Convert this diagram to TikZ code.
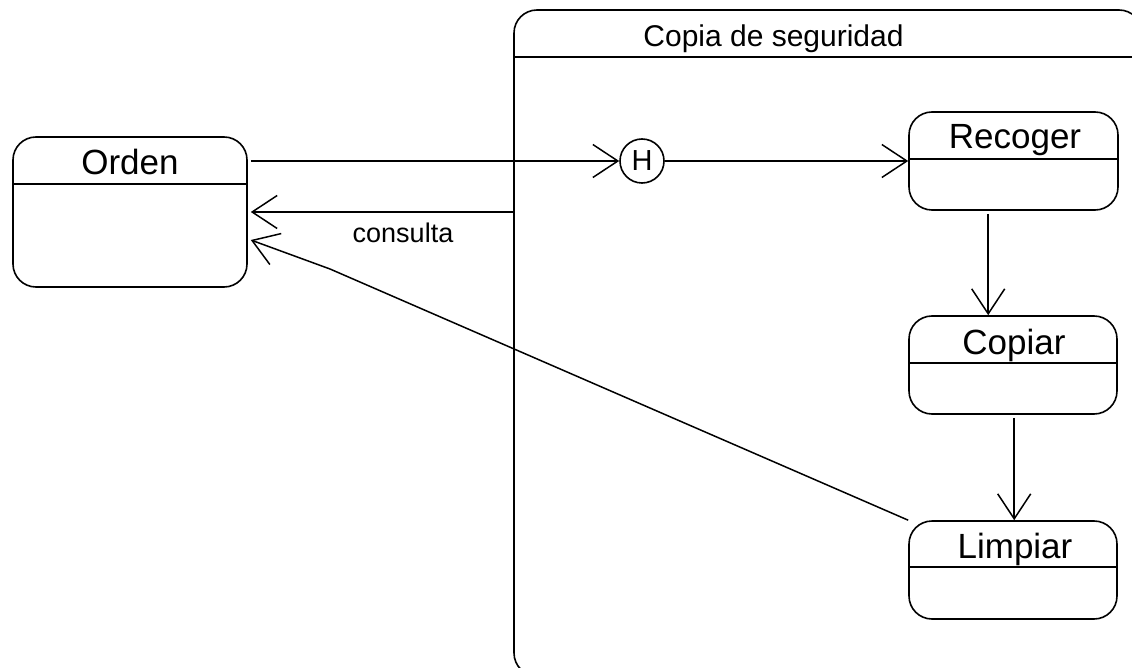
\documentclass[tikz,border=0pt]{standalone}
\usepackage{fontspec}
\setmainfont{Liberation Sans}
\usetikzlibrary{arrows.meta,calc}
\tikzset{
  stbox/.style={draw=black, line width=1.6pt, rounded corners=23pt, inner sep=0pt},
  stname/.style={anchor=base, inner sep=0pt, font=\fontsize{35}{40}\selectfont},
  divline/.style={line width=1.6pt},
  arr/.style={line width=1.5pt, -{Straight Barb[length=25pt,width=33pt,line width=1.5pt]}},
  hist/.style={draw=black, line width=1.6pt, circle, minimum size=44pt, inner sep=0pt, font=\fontsize{29}{32}\selectfont}
}
\begin{document}
\begin{tikzpicture}[x=1pt,y=-1pt]
\useasboundingbox (0,0) rectangle (1132,668);
\fill[white] (0,0) rectangle (1132,668);
\clip (0,0) rectangle (1132,668);

% composite state
\node[stbox, minimum width=628pt, minimum height=666pt] (Copia) at (828,343) {};
\draw[divline] (Copia.west |- 0,57) -- (Copia.east |- 0,57);
\node[stname, font=\fontsize{30}{34}\selectfont] (tCopia) at (773.5,47) {Copia de seguridad};

% Orden
\node[stbox, minimum width=234pt, minimum height=150pt] (Orden) at (130,212) {};
\draw[divline] (Orden.west |- 0,184) -- (Orden.east |- 0,184);
\node[stname] (tOrden) at (130,175) {Orden};

% Recoger
\node[stbox, minimum width=209pt, minimum height=98pt] (Recoger) at (1013.5,161) {};
\draw[divline] (Recoger.west |- 0,159) -- (Recoger.east |- 0,159);
\node[stname] (tRecoger) at (1015,149) {Recoger};

% Copiar
\node[stbox, minimum width=208pt, minimum height=98pt] (Copiar) at (1013,365) {};
\draw[divline] (Copiar.west |- 0,363) -- (Copiar.east |- 0,363);
\node[stname] (tCopiar) at (1014,354) {Copiar};

% Limpiar
\node[stbox, minimum width=208pt, minimum height=98pt] (Limpiar) at (1013,570) {};
\draw[divline] (Limpiar.west |- 0,567) -- (Limpiar.east |- 0,567);
\node[stname] (tLimpiar) at (1015,558) {Limpiar};

% history pseudo-state
\node[hist] (H) at (642,161) {H};

% transitions
\draw[arr] ([xshift=3pt]Orden.east |- H.west) -- (H.west);
\draw[arr] (H.east) -- (Recoger.west |- H.east);
\draw[arr] ($(Recoger.south west)+(80,3)$) -- ($(Copiar.north west)+(80,0)$);
\draw[arr] ($(Copiar.south west)+(106,3)$) -- ($(Limpiar.north west)+(106,0)$);
\draw[arr] (Copia.west |- Orden.center) -- ([xshift=3pt]Orden.east);
\node[anchor=base, inner sep=0pt, font=\fontsize{27}{30}\selectfont] (lconsulta) at (403,243) {consulta};
\coordinate (bend) at (330,269);
\draw[arr] (Limpiar.north west) -- (bend) -- ($(Orden.east)+(3,28)$);
\end{tikzpicture}
\end{document}
